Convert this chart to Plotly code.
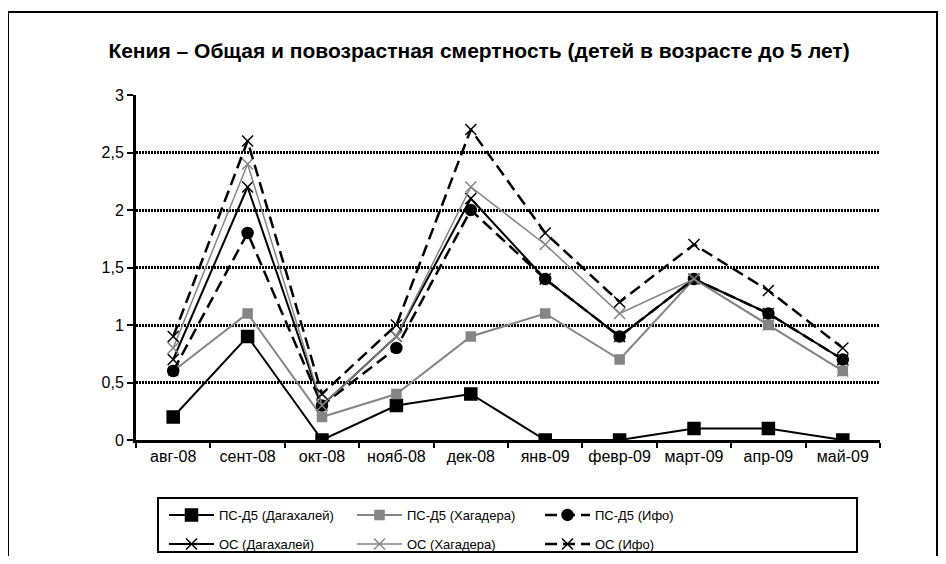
import plotly.graph_objects as go

# Kenya crude and under-5 mortality, aug-08 .. may-09
months = ["авг-08", "сент-08", "окт-08", "нояб-08", "дек-08",
          "янв-09", "февр-09", "март-09", "апр-09", "май-09"]

u5_dagahaley = [0.2, 0.9, 0.0, 0.3, 0.4, 0.0, 0.0, 0.1, 0.1, 0.0]
u5_hagadera = [0.6, 1.1, 0.2, 0.4, 0.9, 1.1, 0.7, 1.4, 1.0, 0.6]
u5_ifo = [0.6, 1.8, 0.3, 0.8, 2.0, 1.4, 0.9, 1.4, 1.1, 0.7]
cr_dagahaley = [0.7, 2.2, 0.3, 0.9, 2.1, 1.4, 0.9, 1.4, 1.1, 0.7]
cr_hagadera = [0.8, 2.4, 0.3, 0.9, 2.2, 1.7, 1.1, 1.4, 1.0, 0.6]
cr_ifo = [0.9, 2.6, 0.4, 1.0, 2.7, 1.8, 1.2, 1.7, 1.3, 0.8]

y_ticks = [0, 0.5, 1, 1.5, 2, 2.5, 3]
y_labels = ["0", "0,5", "1", "1,5", "2", "2,5", "3"]

GRAY = "#858585"
# page body has an 8px margin, so figure coords = screen coords - 8
OFF = 8
W, H = 930, 548
L, R, T, B = 136 - OFF, W - (880 - OFF), 95 - OFF, H - (440 - OFF)


def px_x(p):
    # screen x -> paper fraction
    return (p - OFF - L) / (W - L - R)


def px_y(p):
    return (H - B - (p - OFF)) / (H - T - B)


fig = go.Figure()

DASH = "12px,6px"
series = [
    ("ПС-Д5 (Дагахалей)", u5_dagahaley, "black", "solid", 2, "square", 12, "legend"),
    ("ПС-Д5 (Хагадера)", u5_hagadera, GRAY, "solid", 2, "square", 9, "legend"),
    ("ПС-Д5 (Ифо)", u5_ifo, "black", DASH, 2.5, "circle", 11, "legend"),
    ("ОС (Дагахалей)", cr_dagahaley, "black", "solid", 2, "x-thin-open", 11, "legend2"),
    ("ОС (Хагадера)", cr_hagadera, GRAY, "solid", 1.5, "x-thin-open", 11, "legend2"),
    ("ОС (Ифо)", cr_ifo, "black", DASH, 2.5, "x-thin-open", 11, "legend2"),
]
for name, vals, col, dash, lw, sym, ms, lg in series:
    fig.add_trace(go.Scatter(
        x=months, y=vals, name=name, mode="lines+markers", legend=lg,
        line=dict(color=col, width=lw, dash=dash),
        marker=dict(symbol=sym, size=ms, color=col,
                    line=dict(color=col, width=1.5)),
    ))

# outer chart frame and legend box
fig.add_shape(type="rect", xref="paper", yref="paper",
              x0=px_x(8), x1=px_x(937), y0=px_y(620), y1=px_y(12),
              line=dict(color="black", width=2), layer="below")
fig.add_shape(type="rect", xref="paper", yref="paper",
              x0=px_x(158), x1=px_x(857), y0=px_y(552), y1=px_y(498),
              line=dict(color="black", width=2), layer="above")

leg = dict(orientation="h", xanchor="left", yanchor="middle",
           entrywidth=128, itemwidth=45, borderwidth=0,
           font=dict(size=13), traceorder="normal",
           bgcolor="rgba(0,0,0,0)")

fig.update_layout(
    width=W, height=H,
    margin=dict(l=L, r=R, t=T, b=B, autoexpand=False),
    paper_bgcolor="white", plot_bgcolor="white",
    font=dict(family="Liberation Sans, Arial", size=16, color="black"),
    title=dict(text="<b>Кения – Общая и повозрастная смертность (детей в возрасте до 5 лет)</b>",
               x=(479 - OFF) / W, xref="container",
               y=1 - (51 - OFF) / H, yref="container",
               xanchor="center", yanchor="middle",
               font=dict(size=21, color="black")),
    xaxis=dict(type="category", showline=True, linecolor="black", linewidth=3,
               ticks="outside", tickson="boundaries", ticklen=5, tickwidth=2,
               tickcolor="black", showgrid=False, range=[-0.5, 9.5],
               tickfont=dict(size=16)),
    yaxis=dict(range=[0, 3], tickvals=y_ticks, ticktext=y_labels,
               showline=True, linecolor="black", linewidth=3,
               ticks="outside", ticklen=6, tickwidth=2, tickcolor="black",
               showgrid=True, gridcolor="black", gridwidth=2.5,
               griddash="2px,1px", zeroline=False, tickfont=dict(size=16)),
    legend=dict(leg, x=px_x(164), y=px_y(515)),
    legend2=dict(leg, x=px_x(164), y=px_y(544)),
    showlegend=True,
)

fig.write_html("out.html")
